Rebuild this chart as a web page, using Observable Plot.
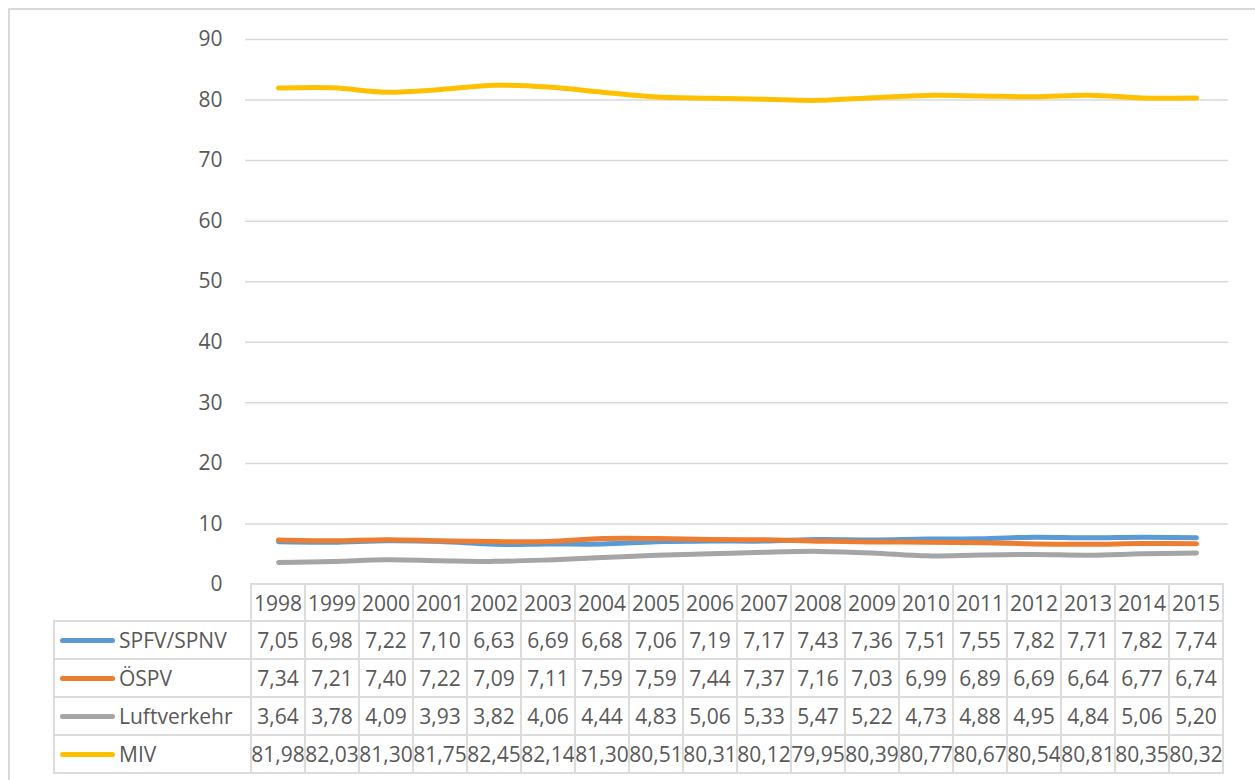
<!DOCTYPE html>
<html>
<head>
<meta charset="utf-8">
<script src="https://cdn.jsdelivr.net/npm/d3@7"></script>
<script src="https://cdn.jsdelivr.net/npm/@observablehq/plot@0.6"></script>
<style>
  body { margin: 0; background: #fff; font-family: "Open Sans", sans-serif; }
  #wrap { position: relative; width: 1255px; height: 780px; overflow: hidden; }
  #frame { position: absolute; left: 8px; top: 8px; width: 1400px; height: 900px;
           border-left: 2px solid #d9d9d9; border-top: 2px solid #d9d9d9; }
  #chart { position: absolute; left: 0; top: 0; }
  #chart svg { overflow: visible; }
  .cell { position: absolute; display: flex; align-items: center; justify-content: center;
          white-space: nowrap; font-size: 21px; color: #595959; box-sizing: border-box;
          border: 2px solid #dcdcdc; }
  .label { justify-content: flex-start; padding-left: 5px; }
  .swatch { width: 55px; height: 5px; border-radius: 3px; margin-right: 4px; flex: none; }
</style>
</head>
<body>
<div id="wrap">
  <div id="frame"></div>
  <div id="chart"></div>
  <div id="table"></div>
</div>
<script>
// Modal split of passenger transport (share in %), 1998–2015
const years = [1998, 1999, 2000, 2001, 2002, 2003, 2004, 2005, 2006, 2007, 2008, 2009, 2010, 2011, 2012, 2013, 2014, 2015];
const seriesNames = ["SPFV/SPNV", "ÖSPV", "Luftverkehr", "MIV"];
const seriesColors = ["#5b9bd5", "#ed7d31", "#a5a5a5", "#ffc000"];
const spfv = [7.05, 6.98, 7.22, 7.10, 6.63, 6.69, 6.68, 7.06, 7.19, 7.17, 7.43, 7.36, 7.51, 7.55, 7.82, 7.71, 7.82, 7.74];
const ospv = [7.34, 7.21, 7.40, 7.22, 7.09, 7.11, 7.59, 7.59, 7.44, 7.37, 7.16, 7.03, 6.99, 6.89, 6.69, 6.64, 6.77, 6.74];
const luft = [3.64, 3.78, 4.09, 3.93, 3.82, 4.06, 4.44, 4.83, 5.06, 5.33, 5.47, 5.22, 4.73, 4.88, 4.95, 4.84, 5.06, 5.20];
const miv  = [81.98, 82.03, 81.30, 81.75, 82.45, 82.14, 81.30, 80.51, 80.31, 80.12, 79.95, 80.39, 80.77, 80.67, 80.54, 80.81, 80.35, 80.32];
const yTicks = [0, 10, 20, 30, 40, 50, 60, 70, 80, 90];

const seriesValues = [spfv, ospv, luft, miv];
const rows = seriesNames.flatMap((name, s) =>
  years.map((year, i) => ({ series: name, year, value: seriesValues[s][i] })));

const de = d3.formatLocale({ decimal: ",", thousands: ".", grouping: [3], currency: ["", " €"] });
const fmt = de.format(".2f");

const chart = Plot.plot({
  width: 1255,
  height: 586,
  marginLeft: 245,
  marginRight: 27,
  marginTop: 39,
  marginBottom: 2,
  style: { fontFamily: "'Open Sans', sans-serif", fontSize: "21px", color: "#595959", background: "transparent" },
  x: { type: "point", domain: years, padding: 0.5, axis: null },
  y: { domain: [0, 90], axis: null },
  color: { domain: seriesNames, range: seriesColors },
  marks: [
    Plot.gridY(yTicks.filter(d => d > 0), { stroke: "#d9d9d9", strokeOpacity: 1, strokeWidth: 1.5 }),
    Plot.axisY(yTicks, { tickSize: 0, tickPadding: 23, label: null, fontSize: 21 }),
    Plot.line(rows, {
      x: "year", y: "value", z: "series", stroke: "series",
      strokeWidth: 5, curve: "catmull-rom", strokeLinecap: "round", strokeLinejoin: "round"
    })
  ]
});
document.getElementById("chart").append(chart);

// Data table beneath the plot, columns aligned on the x scale
const x = chart.scale("x");
const step = x.apply(years[1]) - x.apply(years[0]);
const tableTop = 584, rowH = 38, labelLeft = 54;
const colLeft = y => x.apply(y) - step / 2;
const table = d3.select("#table");

function cell(left, top, width, height, cls) {
  return table.append("div").attr("class", "cell " + (cls || ""))
    .style("left", (left - 1) + "px").style("top", (top - 1) + "px")
    .style("width", (width + 2) + "px").style("height", (height + 2) + "px");
}

// header row with the years
years.forEach(yr => cell(colLeft(yr), tableTop, step, rowH - 1).text(yr));

// one row per series: legend key, then the values
const firstCol = colLeft(years[0]);
seriesNames.forEach((name, s) => {
  const top = tableTop + rowH * (s + 1) - 1;
  const lab = cell(labelLeft, top, firstCol - labelLeft, rowH, "label");
  lab.append("div").attr("class", "swatch").style("background", seriesColors[s]);
  lab.append("span").text(name);
  years.forEach((yr, i) => cell(colLeft(yr), top, step, rowH).text(fmt(seriesValues[s][i])));
});
</script>
</body>
</html>
